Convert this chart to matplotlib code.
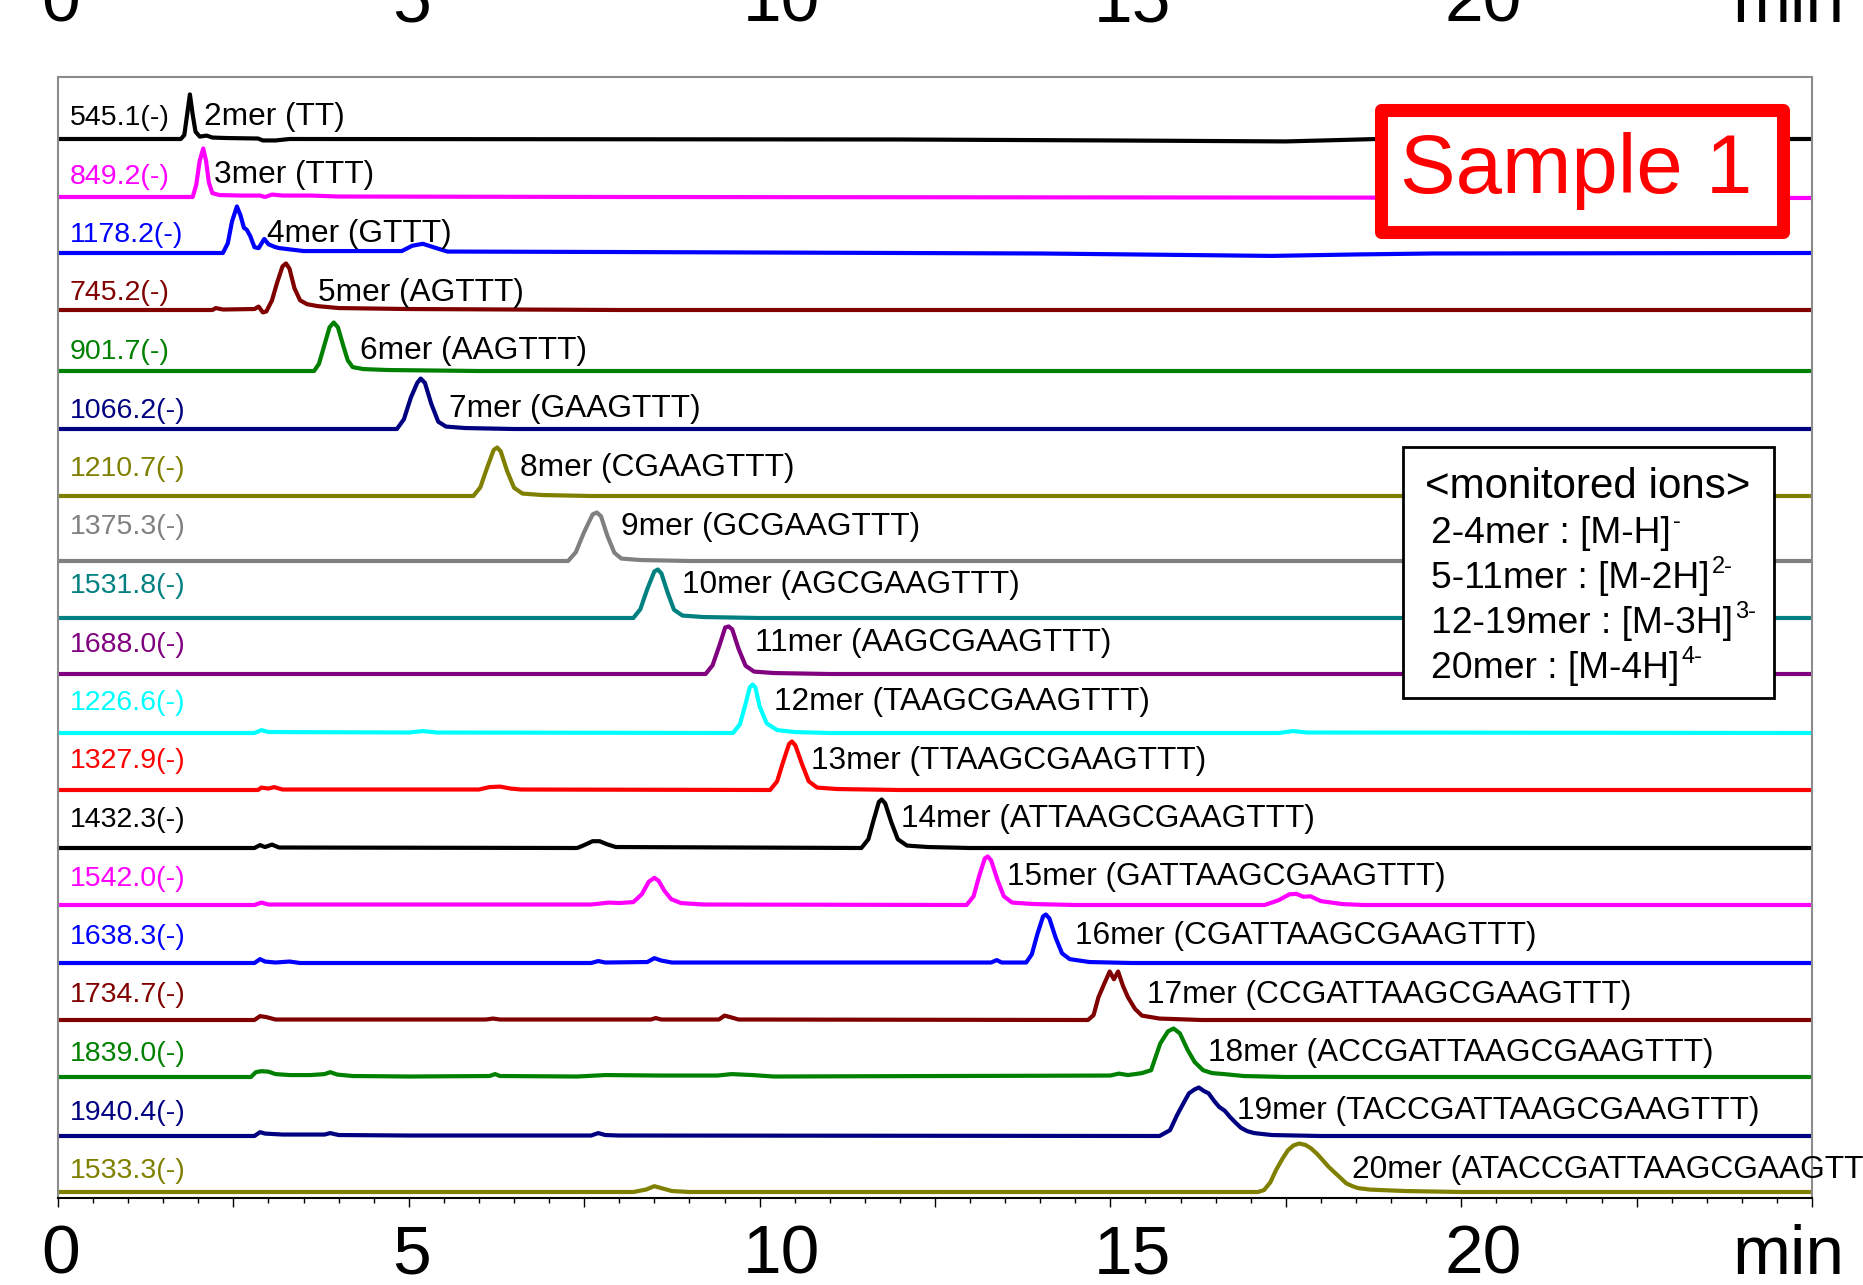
import matplotlib
matplotlib.use("Agg")
import matplotlib.pyplot as plt
from matplotlib.patches import Rectangle
from matplotlib.ticker import MultipleLocator
import matplotlib.transforms as mtransforms

plt.rcParams['font.family'] = ['Liberation Sans', 'DejaVu Sans']

# ---------------- data ----------------
oligo_names = ['2mer', '3mer', '4mer', '5mer', '6mer', '7mer', '8mer', '9mer', '10mer',
               '11mer', '12mer', '13mer', '14mer', '15mer', '16mer', '17mer', '18mer',
               '19mer', '20mer']
sequences = ['TT', 'TTT', 'GTTT', 'AGTTT', 'AAGTTT', 'GAAGTTT', 'CGAAGTTT', 'GCGAAGTTT',
             'AGCGAAGTTT', 'AAGCGAAGTTT', 'TAAGCGAAGTTT', 'TTAAGCGAAGTTT',
             'ATTAAGCGAAGTTT', 'GATTAAGCGAAGTTT', 'CGATTAAGCGAAGTTT',
             'CCGATTAAGCGAAGTTT', 'ACCGATTAAGCGAAGTTT', 'TACCGATTAAGCGAAGTTT',
             'ATACCGATTAAGCGAAGTTT']
mz_values = ['545.1', '849.2', '1178.2', '745.2', '901.7', '1066.2', '1210.7', '1375.3',
             '1531.8', '1688.0', '1226.6', '1327.9', '1432.3', '1542.0', '1638.3',
             '1734.7', '1839.0', '1940.4', '1533.3']

# chromatogram traces: (retention time [min], relative intensity [%])
trace_2mer = [(0, 0), (1.75, 0), (1.80, 8), (1.84, 50), (1.88, 92), (1.92, 50), (1.96, 15),
              (2.02, 5), (2.12, 7), (2.2, 3), (2.4, 2), (2.85, 1), (2.92, -3), (3.1, -3),
              (3.3, 0), (12, -1), (15, -3), (17.5, -5), (18.3, -2), (18.8, 0), (25, 0)]
trace_3mer = [(0, 0), (1.92, 0), (1.97, 25), (2.02, 75), (2.07, 100), (2.11, 75), (2.15, 30),
              (2.2, 8), (2.3, 4), (2.6, 3), (2.88, 3), (2.95, 0), (3.05, 5), (3.2, 3),
              (3.6, 3), (4.0, 1), (8, 0), (25, -2)]
trace_4mer = [(0, 0), (2.35, 0), (2.42, 20), (2.48, 65), (2.55, 96), (2.6, 78), (2.65, 52),
              (2.69, 48), (2.74, 35), (2.8, 12), (2.86, 10), (2.94, 29), (3.0, 18), (3.1, 12),
              (3.16, 10), (3.5, 4), (4.9, 4), (5.05, 15), (5.2, 19), (5.35, 12), (5.55, 3),
              (8, 2), (14, -1), (16, -4), (17.3, -6), (18.5, -3), (19.6, -1), (25, 0)]
trace_5mer = [(0, 0), (2.2, 0), (2.25, 4), (2.35, 1), (2.8, 2), (2.86, 7), (2.92, -5),
              (2.97, -3), (3.05, 20), (3.12, 55), (3.2, 90), (3.25, 96), (3.3, 85), (3.37, 45),
              (3.45, 20), (3.55, 12), (3.7, 8), (4.0, 4), (5, 2), (8, 0), (25, 0)]
trace_6mer = [(0, 0), (3.65, 0), (3.72, 15), (3.8, 55), (3.87, 90), (3.93, 100), (3.99, 90),
              (4.06, 55), (4.13, 22), (4.2, 8), (4.35, 4), (4.7, 2), (6, 0), (25, 0)]
trace_7mer = [(0, 0), (4.83, 0), (4.93, 20), (5.03, 65), (5.12, 95), (5.17, 104), (5.23, 95),
              (5.32, 52), (5.42, 15), (5.53, 5), (5.8, 2), (6.5, 0), (25, 0)]
trace_8mer = [(0, 0), (5.92, 0), (6.02, 18), (6.12, 60), (6.21, 95), (6.26, 100), (6.31, 92),
              (6.4, 52), (6.5, 17), (6.62, 5), (6.9, 2), (7.6, 0), (25, 0)]
trace_9mer = [(0, 0), (7.27, 0), (7.38, 18), (7.5, 60), (7.62, 96), (7.68, 100), (7.74, 92),
              (7.83, 52), (7.93, 17), (8.03, 5), (8.3, 2), (9, 0), (25, 0)]
trace_10mer = [(0, 0), (8.2, 0), (8.3, 18), (8.4, 60), (8.5, 96), (8.55, 100), (8.6, 92),
               (8.69, 52), (8.78, 17), (8.9, 5), (9.2, 2), (10, 0), (25, 0)]
trace_11mer = [(0, 0), (9.23, 0), (9.33, 18), (9.43, 60), (9.51, 96), (9.56, 98), (9.61, 92),
               (9.7, 52), (9.8, 17), (9.92, 5), (10.2, 2), (11, 0), (25, 0)]
trace_12mer = [(0, 0), (2.8, 0), (2.9, 6), (3.0, 2), (5.0, 1), (5.2, 4), (5.4, 1), (9.62, 0),
               (9.72, 18), (9.8, 60), (9.86, 94), (9.9, 100), (9.94, 94), (10.0, 55),
               (10.1, 20), (10.25, 6), (10.5, 2), (11, 0), (17.4, 0), (17.6, 4), (17.8, 1),
               (25, 0)]
trace_13mer = [(0, 0), (2.85, 0), (2.9, 5), (3.0, 3), (3.08, 6), (3.2, 1), (6.0, 1), (6.15, 6),
               (6.3, 7), (6.45, 3), (6.6, 1), (10.15, 0), (10.25, 18), (10.34, 60),
               (10.42, 95), (10.46, 100), (10.51, 92), (10.6, 55), (10.7, 18), (10.82, 5),
               (11.1, 2), (12, 0), (25, 0)]
trace_14mer = [(0, 0), (2.8, 0), (2.88, 6), (2.95, 2), (3.05, 7), (3.15, 1), (7.4, 0), (7.5, 6),
               (7.62, 14), (7.72, 14), (7.82, 8), (7.95, 2), (11.45, 0), (11.55, 18),
               (11.63, 60), (11.7, 95), (11.74, 100), (11.79, 92), (11.88, 52), (11.97, 18),
               (12.1, 5), (12.4, 2), (13, 0), (25, 0)]
trace_15mer = [(0, 0), (2.8, 0), (2.9, 5), (3.0, 1), (7.6, 1), (7.85, 5), (8.0, 4), (8.2, 6),
               (8.32, 22), (8.42, 48), (8.5, 56), (8.56, 50), (8.64, 30), (8.74, 12),
               (8.88, 4), (9.2, 1), (12.95, 0), (13.05, 18), (13.13, 60), (13.21, 96),
               (13.25, 100), (13.3, 92), (13.39, 52), (13.48, 18), (13.6, 5), (13.9, 2),
               (14.5, 0), (17.2, 0), (17.4, 10), (17.55, 22), (17.65, 23), (17.75, 17),
               (17.85, 18), (18.0, 8), (18.3, 2), (18.6, 0), (25, 0)]
trace_16mer = [(0, 0), (2.8, 0), (2.88, 8), (2.95, 3), (3.1, 1), (3.3, 3), (3.45, 0), (7.6, 0),
               (7.7, 4), (7.8, 1), (8.4, 2), (8.5, 10), (8.6, 5), (8.75, 1), (13.3, 1),
               (13.38, 6), (13.45, 1), (13.8, 1), (13.88, 18), (13.96, 60), (14.04, 96),
               (14.08, 100), (14.13, 92), (14.22, 52), (14.31, 20), (14.42, 8), (14.7, 2),
               (15.3, 0), (25, 0)]
trace_17mer = [(0, 0), (2.8, 0), (2.88, 8), (2.97, 6), (3.1, 1), (6.1, 1), (6.2, 3), (6.3, 1),
               (8.45, 1), (8.52, 4), (8.6, 1), (9.42, 1), (9.5, 9), (9.58, 6), (9.7, 1),
               (14.68, 0), (14.76, 10), (14.83, 47), (14.91, 74), (14.99, 100), (15.05, 84),
               (15.11, 100), (15.18, 70), (15.25, 47), (15.35, 23), (15.45, 9), (15.7, 3),
               (16.3, 0), (25, 0)]
trace_18mer = [(0, 0), (2.75, 0), (2.82, 10), (2.9, 12), (3.0, 11), (3.1, 6), (3.3, 4),
               (3.6, 4), (3.8, 6), (3.88, 10), (3.98, 5), (4.2, 2), (5, 1), (6.15, 2),
               (6.23, 6), (6.3, 2), (7.4, 1), (7.8, 4), (8.6, 3), (9.4, 3), (9.6, 6), (9.9, 4),
               (10.2, 1), (15.0, 3), (15.12, 7), (15.25, 4), (15.45, 8), (15.58, 14),
               (15.71, 69), (15.82, 94), (15.9, 100), (15.99, 90), (16.1, 56), (16.2, 31),
               (16.32, 14), (16.45, 8), (16.62, 6), (16.9, 2), (17.5, 0), (25, 0)]
trace_19mer = [(0, 0), (2.8, 0), (2.88, 8), (2.95, 5), (3.2, 3), (3.8, 3), (3.88, 6), (4.0, 2),
               (5, 1), (7.6, 1), (7.7, 6), (7.8, 2), (8, 1), (15.7, 0), (15.85, 12),
               (15.95, 43), (16.05, 70), (16.12, 88), (16.2, 96), (16.26, 100), (16.33, 93),
               (16.4, 88), (16.48, 72), (16.55, 60), (16.63, 52), (16.7, 40), (16.78, 28),
               (16.86, 17), (16.95, 10), (17.05, 6), (17.3, 2), (18, 0), (25, 0)]
trace_20mer = [(0, 0), (8.2, 0), (8.38, 5), (8.5, 12), (8.6, 8), (8.75, 2), (9, 0), (17.1, 0),
               (17.19, 4), (17.28, 20), (17.36, 45), (17.45, 68), (17.53, 86), (17.61, 96),
               (17.69, 100), (17.78, 97), (17.86, 90), (17.95, 78), (18.03, 65), (18.11, 52),
               (18.19, 41), (18.28, 29), (18.36, 18), (18.45, 12), (18.53, 8), (18.7, 5),
               (18.86, 4), (19.2, 2), (20, 0), (25, 0)]

x_tick_values = [0, 5, 10, 15, 20]
x_unit = 'min'
sample_title = 'Sample 1'
legend_title = '<monitored ions>'
legend_lines = ['2-4mer : [M-H]', '5-11mer : [M-2H]', '12-19mer : [M-3H]', '20mer : [M-4H]']
legend_charges = ['-', '2-', '3-', '4-']

traces = [trace_2mer, trace_3mer, trace_4mer, trace_5mer, trace_6mer, trace_7mer,
          trace_8mer, trace_9mer, trace_10mer, trace_11mer, trace_12mer, trace_13mer,
          trace_14mer, trace_15mer, trace_16mer, trace_17mer, trace_18mer, trace_19mer,
          trace_20mer]

# ---------------- styles / layout ----------------
colors = ['#000000', '#FF00FF', '#0000FF', '#800000', '#008000', '#000080', '#808000',
          '#808080', '#008080', '#800080', '#00FFFF', '#FF0000', '#000000', '#FF00FF',
          '#0000FF', '#800000', '#008000', '#000080', '#808000']
# name-label start (min) and baseline drop (px below label centre) for each row
label_time = [2.08, 2.23, 2.98, 3.70, 4.31, 5.57, 6.59, 8.02, 8.89, 9.93, 10.20, 10.73,
              12.02, 13.53, 14.50, 15.52, 16.39, 16.80, 18.45]
baseline_drop = [24, 23.5, 21, 19.5, 22, 21.5, 30, 36.5, 35, 32.5, 33, 31.5, 31, 29.5, 29,
                 27.5, 26, 26.5, 24]

W, H = 1863, 1285
AX_L, AX_R, AX_T, AX_B = 58, 1812, 77, 1198
ROW = 58.5          # px per row
PEAK_PX = 48.5      # px for 100 %

fig = plt.figure(figsize=(W / 100, H / 100), dpi=100)
ax = fig.add_axes([AX_L / W, (H - AX_B) / H, (AX_R - AX_L) / W, (AX_B - AX_T) / H])
ax.set_xlim(0, 25)
ax.set_ylim(0, (AX_B - AX_T) / ROW)

for i, tr in enumerate(traces):
    base = (AX_B - (115 + ROW * i + baseline_drop[i])) / ROW
    ts = [p[0] for p in tr]
    vs = [base + p[1] / 100.0 * PEAK_PX / ROW for p in tr]
    ax.plot(ts, vs, color=colors[i], lw=3.0, solid_joinstyle='round', zorder=2)
    ty = (AX_B - (125 + ROW * i)) / ROW
    ax.text(0.17, ty, mz_values[i] + '(-)', color=colors[i], fontsize=20.5,
            ha='left', va='baseline', zorder=3)
    ax.text(label_time[i], ty, f'{oligo_names[i]} ({sequences[i]})', color='black',
            fontsize=22.8, ha='left', va='baseline', zorder=3)

# frame and ticks
for s in ['left', 'top', 'right']:
    ax.spines[s].set_color('#8c8c8c')
    ax.spines[s].set_linewidth(1.5)
ax.spines['bottom'].set_color('black')
ax.spines['bottom'].set_linewidth(1.5)
ax.xaxis.set_major_locator(MultipleLocator(2.5))
ax.xaxis.set_minor_locator(MultipleLocator(0.5))
ax.tick_params(axis='x', which='major', length=6.5, width=1.0, direction='out',
               labelbottom=False, color='black')
ax.tick_params(axis='x', which='minor', length=3.5, width=1.0, direction='out', color='black')
ax.set_yticks([])

trans = mtransforms.blended_transform_factory(ax.transData, ax.transAxes)
offs = mtransforms.ScaledTranslation(-17 / 100, 0, fig.dpi_scale_trans)
h_ax = AX_B - AX_T
for yfrac in [-76 / h_ax, 1 + 55 / h_ax]:
    for v in x_tick_values:
        ax.text(v, yfrac, str(v), transform=trans + offs, fontsize=50, ha='left',
                va='baseline', clip_on=False)
    ax.text(23.86, yfrac, x_unit, transform=trans, fontsize=50, ha='left',
            va='baseline', clip_on=False)


def ax_x(px):
    return (px - AX_L) / (AX_R - AX_L)


def ax_y(px):
    return (AX_B - px) / h_ax


# Sample box
ax.add_patch(Rectangle((ax_x(1381), ax_y(232)), ax_x(1783) - ax_x(1381), ax_y(110) - ax_y(232),
                       transform=ax.transAxes, facecolor='white', edgecolor='#FF0000',
                       lw=9.4, joinstyle='round', zorder=5))
ax.text(ax_x(1576), ax_y(193), sample_title, transform=ax.transAxes, color='#FF0000',
        fontsize=60, ha='center', va='baseline', zorder=6)

# monitored ions box
ax.add_patch(Rectangle((ax_x(1403), ax_y(698)), ax_x(1774) - ax_x(1403), ax_y(447) - ax_y(698),
                       transform=ax.transAxes, facecolor='white', edgecolor='black',
                       lw=2.0, zorder=5))
ax.text(ax_x(1588), ax_y(498), legend_title, transform=ax.transAxes, fontsize=30.3,
        ha='center', va='baseline', zorder=6)
line_texts = []
line_base = [543, 588, 633, 678]
for s, b in zip(legend_lines, line_base):
    t = ax.text(ax_x(1431), ax_y(b), s, transform=ax.transAxes, fontsize=26.8,
                ha='left', va='baseline', zorder=6)
    line_texts.append(t)

fig.canvas.draw()
renderer = fig.canvas.get_renderer()
for t, sup, b in zip(line_texts, legend_charges, line_base):
    bb = t.get_window_extent(renderer)
    _, yd = ax.transAxes.transform((0, ax_y(b)))
    xa, ya = ax.transAxes.inverted().transform((bb.x1 + 2, yd + 15))
    ax.text(xa, ya, sup, transform=ax.transAxes, fontsize=17, ha='left', va='baseline',
            zorder=6)

fig.savefig('out.png', dpi=100)
